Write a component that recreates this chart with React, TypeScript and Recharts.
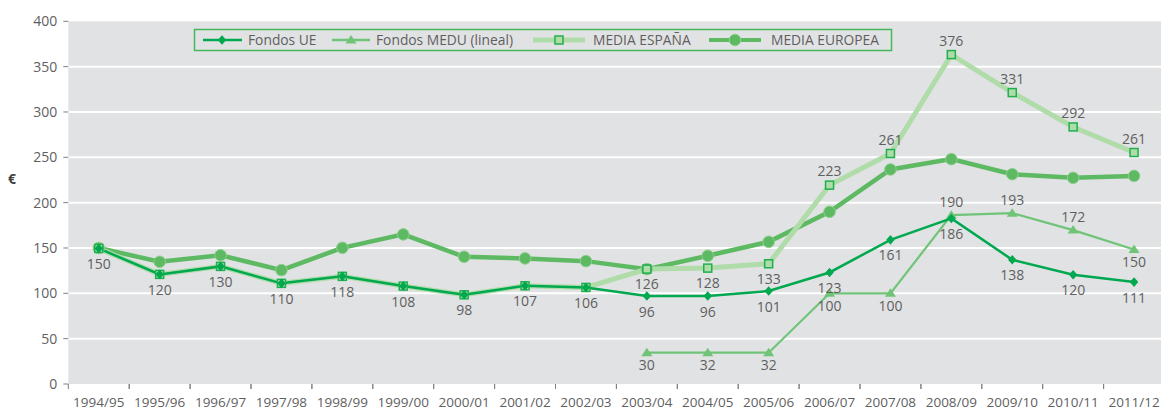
import React from 'react';
import { LineChart, Line, XAxis, YAxis, CartesianGrid } from 'recharts';

// ---- data ----
const categories = [
  '1994/95', '1995/96', '1996/97', '1997/98', '1998/99', '1999/00', '2000/01', '2001/02', '2002/03',
  '2003/04', '2004/05', '2005/06', '2006/07', '2007/08', '2008/09', '2009/10', '2010/11', '2011/12',
];

const fondosUE = [149.5, 120.9, 129.7, 111, 118.7, 108, 98.4, 108.3, 106.5, 97, 97, 102.5, 123, 159, 182.6, 137, 120.5, 112.4];
const fondosMEDU: (number | null)[] = [null, null, null, null, null, null, null, null, null, 34.5, 34.5, 34.5, 100, 100, 186.2, 188.4, 169.7, 148.4];
const mediaEspana = [149.5, 120.9, 129.7, 111, 118.7, 108, 98.4, 108.3, 106.5, 126.7, 127.8, 132.6, 219.3, 254.2, 363.3, 321.4, 283.5, 255.3];
const mediaEuropea = [150, 134.8, 142, 125.6, 150.2, 165, 140.3, 138.5, 135.5, 126.7, 141.4, 156.8, 189.9, 236.6, 248, 231.4, 227.4, 229.5];

const ueLabels = ['150', '120', '130', '110', '118', '108', '98', '107', '106', '96', '96', '101', '123', '161', '186', '138', '120', '111'];
const meduLabels: (string | null)[] = [null, null, null, null, null, null, null, null, null, '30', '32', '32', '100', '100', '190', '193', '172', '150'];
const espanaLabels: (string | null)[] = [null, null, null, null, null, null, null, null, null, '126', '128', '133', '223', '261', '376', '331', '292', '261'];

const yTicks = [0, 50, 100, 150, 200, 250, 300, 350, 400];
const gridValues = [50, 100, 150, 200, 250, 300, 350];

// label placement (a = above, b = below)
const ueSide = ueLabels.map(() => 'b');
const meduSide = ['b', 'b', 'b', 'b', 'b', 'b', 'b', 'b', 'b', 'b', 'b', 'b', 'b', 'b', 'a', 'a', 'a', 'b'];
const espanaSide = ['b', 'b', 'b', 'b', 'b', 'b', 'b', 'b', 'b', 'b', 'b', 'b', 'a', 'a', 'a', 'a', 'a', 'a'];

const rows = categories.map((c, i) => ({
  cat: c,
  ue: fondosUE[i],
  medu: fondosMEDU[i],
  esp: mediaEspana[i],
  eur: mediaEuropea[i],
}));

// ---- styles ----
const FONT = '"Open Sans", sans-serif';
const TEXT = '#5f5f5f';
const C_UE = '#00a84f';
const C_MEDU = '#70c477';
const C_ESP = '#b0dca9';
const C_ESP_BORDER = '#1eb04e';
const C_EUR = '#5db962';
const BG = '#e1e2e4';

const CHART_W = 1170;
const CHART_H = 409;
const MARGIN = { top: 21.3, right: 5.5, bottom: 0, left: 0 };
const Y_W = 68.3;
const BAND_HALF = (CHART_W - MARGIN.left - MARGIN.right - Y_W) / categories.length / 2;

const ok = (p: any) => p && p.cx != null && p.cy != null && !isNaN(p.cx) && !isNaN(p.cy);

const DiamondDot = (p: any) => {
  if (!ok(p) || p.value == null) return <g key={`d${p.index}`} />;
  const { cx, cy } = p;
  return <polygon key={`d${p.index}`} points={`${cx},${cy - 4.8} ${cx + 4.2},${cy} ${cx},${cy + 4.8} ${cx - 4.2},${cy}`} fill={C_UE} />;
};
const TriangleDot = (p: any) => {
  if (!ok(p) || p.value == null) return <g key={`t${p.index}`} />;
  const { cx, cy } = p;
  return <polygon key={`t${p.index}`} points={`${cx},${cy - 5} ${cx + 5.5},${cy + 3.5} ${cx - 5.5},${cy + 3.5}`} fill={C_MEDU} />;
};
const SquareDot = (p: any) => {
  if (!ok(p) || p.value == null) return <g key={`s${p.index}`} />;
  const { cx, cy } = p;
  return <rect key={`s${p.index}`} x={cx - 4} y={cy - 4} width={8} height={8} fill={C_ESP} stroke={C_ESP_BORDER} strokeWidth={1.5} />;
};
const CircleDot = (p: any) => {
  if (!ok(p) || p.value == null) return <g key={`c${p.index}`} />;
  const { cx, cy } = p;
  return <circle key={`c${p.index}`} cx={cx} cy={cy} r={5.8} fill={C_EUR} stroke="#8fd08f" strokeWidth={1} />;
};

const makeLabelDot = (labels: (string | null)[], sides: string[], above: number, below: number) => (p: any) => {
  const i = p.index;
  const t = labels[i];
  if (!ok(p) || t == null) return <g key={`l${i}`} />;
  const y = sides[i] === 'a' ? p.cy - above : p.cy + below;
  return (
    <text key={`l${i}`} x={p.cx} y={y} textAnchor="middle" fill={TEXT} fontSize={14} fontFamily={FONT}>
      {t}
    </text>
  );
};

const XTick = (props: any) => {
  const { x, y, payload } = props;
  const half = payload && payload.offset ? payload.offset : BAND_HALF;
  return (
    <g>
      <line x1={x - half} x2={x - half} y1={y} y2={y + 5} stroke="#808080" strokeWidth={1} />
      <line x1={x + half} x2={x + half} y1={y} y2={y + 5} stroke="#808080" strokeWidth={1} />
      <text x={x} y={y + 22.5} textAnchor="middle" fill={TEXT} fontSize={13.5} fontFamily={FONT}>
        {payload.value}
      </text>
    </g>
  );
};

const LegendOverlay = () => (
  <svg width={1161} height={60} style={{ position: 'absolute', left: 0, top: 0, pointerEvents: 'none' }}>
    <rect x={194.5} y={29.5} width={697} height={21} fill={BG} stroke="#45b65a" strokeWidth={1.5} />
    {/* Fondos UE */}
    <line x1={203} x2={242} y1={40} y2={40} stroke={C_UE} strokeWidth={2.5} />
    <polygon points="222,35.2 226.2,40 222,44.8 217.8,40" fill={C_UE} />
    <text x={248} y={45} fill={TEXT} fontSize={13.8} fontFamily={FONT}>Fondos UE</text>
    {/* Fondos MEDU */}
    <line x1={332} x2={370} y1={40} y2={40} stroke={C_MEDU} strokeWidth={2.5} />
    <polygon points="351,35 356.5,43.5 345.5,43.5" fill={C_MEDU} />
    <text x={376} y={45} fill={TEXT} fontSize={13.8} fontFamily={FONT}>Fondos MEDU (lineal)</text>
    {/* MEDIA ESPAÑA */}
    <line x1={533} x2={585} y1={40} y2={40} stroke={C_ESP} strokeWidth={5} />
    <rect x={555} y={36} width={8} height={8} fill={C_ESP} stroke={C_ESP_BORDER} strokeWidth={1.5} />
    <text x={593} y={45} fill={TEXT} fontSize={13.8} fontFamily={FONT}>MEDIA ESPAÑA</text>
    {/* MEDIA EUROPEA */}
    <line x1={709} x2={761} y1={40} y2={40} stroke={C_EUR} strokeWidth={4} />
    <circle cx={735} cy={40} r={5.8} fill={C_EUR} stroke="#8fd08f" strokeWidth={1} />
    <text x={771} y={45} fill={TEXT} fontSize={13.8} fontFamily={FONT}>MEDIA EUROPEA</text>
  </svg>
);

export default function App() {
  return (
    <div style={{ position: 'absolute', left: 0, top: 0, width: 1161, height: 409, overflow: 'hidden', background: '#fff' }}>
      <LineChart width={CHART_W} height={CHART_H} data={rows} margin={MARGIN}>
        <CartesianGrid horizontal vertical={false} fill={BG} stroke="#ffffff" strokeWidth={2} horizontalValues={gridValues} />
        <XAxis
          dataKey="cat"
          interval={0}
          height={25}
          padding={{ left: BAND_HALF, right: BAND_HALF }}
          tickSize={0}
          tickMargin={0}
          tickLine={false}
          axisLine={false}
          tick={<XTick />}
        />
        <YAxis
          width={Y_W}
          domain={[0, 400]}
          ticks={yTicks}
          interval={0}
          tickSize={5}
          tickMargin={6}
          axisLine={false}
          tickLine={{ stroke: '#808080' }}
          tick={{ fill: TEXT, fontSize: 14, fontFamily: FONT }}
          label={{
            value: '€',
            content: () => (
              <text x={8} y={184} fill="#404040" fontSize={14} fontWeight="bold" fontFamily={FONT}>€</text>
            ),
          }}
        />
        <Line dataKey="eur" stroke={C_EUR} strokeWidth={4.5} dot={CircleDot} activeDot={false} isAnimationActive={false} />
        <Line dataKey="esp" stroke={C_ESP} strokeWidth={5} dot={SquareDot} activeDot={false} isAnimationActive={false} />
        <Line dataKey="medu" stroke={C_MEDU} strokeWidth={2.2} dot={TriangleDot} activeDot={false} isAnimationActive={false} />
        <Line dataKey="ue" stroke={C_UE} strokeWidth={2.5} dot={DiamondDot} activeDot={false} isAnimationActive={false} />
        {/* data labels drawn on top */}
        <Line dataKey="esp" stroke="none" dot={makeLabelDot(espanaLabels, espanaSide, 9, 20)} activeDot={false} isAnimationActive={false} legendType="none" />
        <Line dataKey="medu" stroke="none" dot={makeLabelDot(meduLabels, meduSide, 8, 17.5)} activeDot={false} isAnimationActive={false} legendType="none" />
        <Line dataKey="ue" stroke="none" dot={makeLabelDot(ueLabels, ueSide, 9, 20.5)} activeDot={false} isAnimationActive={false} legendType="none" />
      </LineChart>
      <LegendOverlay />
    </div>
  );
}
